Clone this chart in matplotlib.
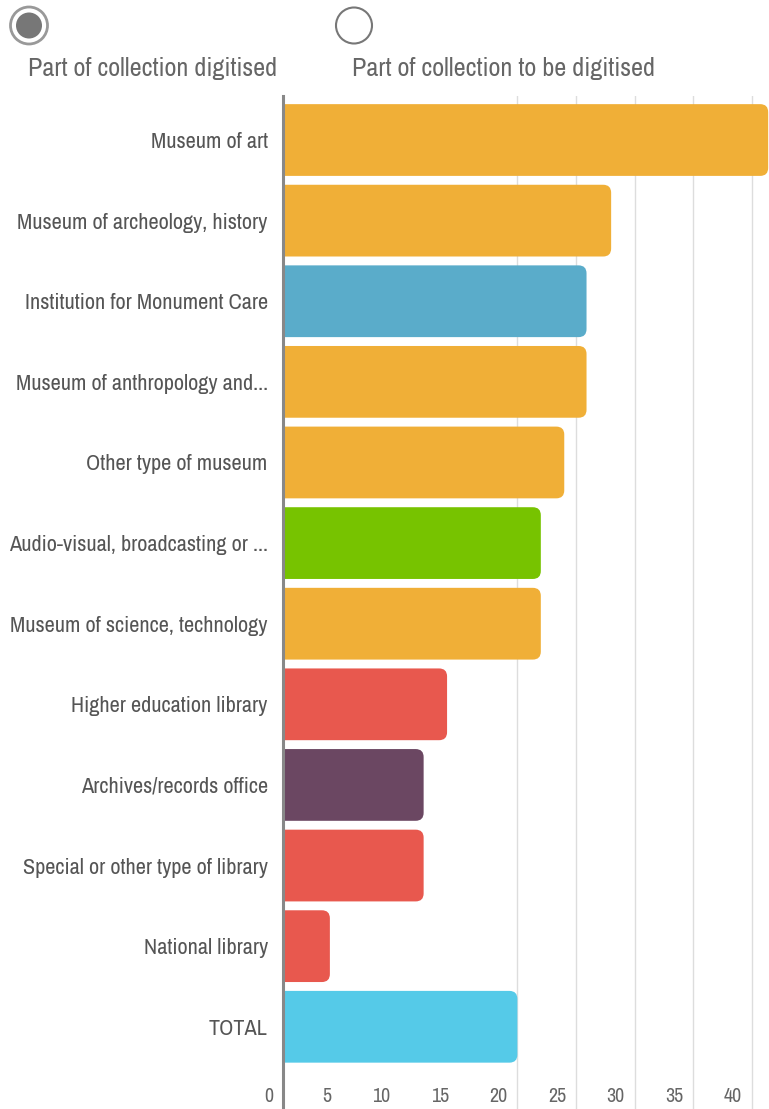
import matplotlib
matplotlib.use('Agg')
import matplotlib.pyplot as plt
from matplotlib import font_manager, transforms
from matplotlib.patches import FancyBboxPatch, Circle

# data
categories = ['Museum of art', 'Museum of archeology, history',
              'Institution for Monument Care', 'Museum of anthropology and...',
              'Other type of museum', 'Audio-visual, broadcasting or ...',
              'Museum of science, technology', 'Higher education library',
              'Archives/records office', 'Special or other type of library',
              'National library', 'TOTAL']
values = [41.4, 28.0, 25.9, 25.9, 24.0, 22.0, 22.0, 14.0, 12.0, 12.0, 4.0, 20.0]
bar_colors = ['#F0AF37', '#F0AF37', '#5AACCA', '#F0AF37', '#F0AF37', '#77C300',
              '#F0AF37', '#E8584E', '#6B4762', '#E8584E', '#E8584E', '#55CAE8']
x_ticks = [0, 5, 10, 15, 20, 25, 30, 35, 40]
grid_ticks = [20, 25, 30, 35, 40]
legend_labels = ['Part of collection digitised',
                 'Part of collection to be digitised']


def pick_family():
    '''Prefer a narrow / condensed face, the reference uses one'''
    names = sorted(set(f.name for f in font_manager.fontManager.ttflist))
    for n in names:
        if 'Narrow' in n or 'Condensed' in n:
            return n
    for n in ['Roboto', 'Liberation Sans', 'Lato', 'Noto Sans']:
        if n in names:
            return n
    return 'DejaVu Sans'


family = [pick_family(), 'DejaVu Sans']
plt.rcParams['font.family'] = family

W, H = 769, 1109
fig = plt.figure(figsize=(W / 100, H / 100), dpi=100)
renderer = fig.canvas.get_renderer()


def fit_size(text, target_px):
    '''font size giving the text a width of target_px'''
    t = fig.text(0, 0, text, fontsize=10)
    w = t.get_window_extent(renderer).width
    t.remove()
    return 10 * target_px / w


label_size = fit_size(categories[1], 251)
legend_size = fit_size(legend_labels[0], 250)
tick_size = fit_size('25', 18)

ax = fig.add_axes([283 / W, 0, 486 / W, 1013 / H])
ax.set_xlim(0, 41.47)
ax.set_ylim(12.02, -0.546)

for gx in grid_ticks:
    ax.axvline(gx, color='#dddddd', lw=1, zorder=0)

bar_h = 0.89
for i, (val, col) in enumerate(zip(values, bar_colors)):
    patch = FancyBboxPatch((-2, i - bar_h / 2), val + 2, bar_h,
                           boxstyle='round,pad=0,rounding_size=0.68',
                           mutation_aspect=0.146, fc=col, ec='none',
                           zorder=2)
    ax.add_patch(patch)

ax.set_yticks(range(len(categories)))
ax.set_yticklabels(categories, fontsize=label_size, color='#555555')
ax.tick_params(axis='y', length=0, pad=11)
ax.set_xticks([])

for side in ['top', 'right', 'bottom']:
    ax.spines[side].set_visible(False)
ax.spines['left'].set_color('#888888')
ax.spines['left'].set_linewidth(2.2)
ax.spines['left'].set_zorder(3)

# x tick labels sit left of their tick, inside the plot area
offset = transforms.offset_copy(ax.transData, fig=fig, x=-10, y=0,
                                units='dots')
for tx in x_ticks:
    ax.text(tx, 11.87, str(tx), transform=offset, ha='right', va='center',
            fontsize=tick_size, color='#666666')

# radio-button legend at the top
lax = fig.add_axes([0, 0, 1, 1])
lax.set_xlim(0, W)
lax.set_ylim(H, 0)
lax.axis('off')
lax.add_patch(Circle((29, 25.5), 18.5, fc='white', ec='#999999', lw=2.0))
lax.add_patch(Circle((29, 25.5), 13, fc='#777777', ec='none'))
lax.add_patch(Circle((354, 25.5), 18, fc='none', ec='#777777', lw=1.5))
lax.text(28, 68, legend_labels[0], ha='left', va='center', fontsize=legend_size,
         color='#666666')
lax.text(352, 68, legend_labels[1], ha='left', va='center', fontsize=legend_size,
         color='#666666')

fig.savefig('out.png', dpi=100)
